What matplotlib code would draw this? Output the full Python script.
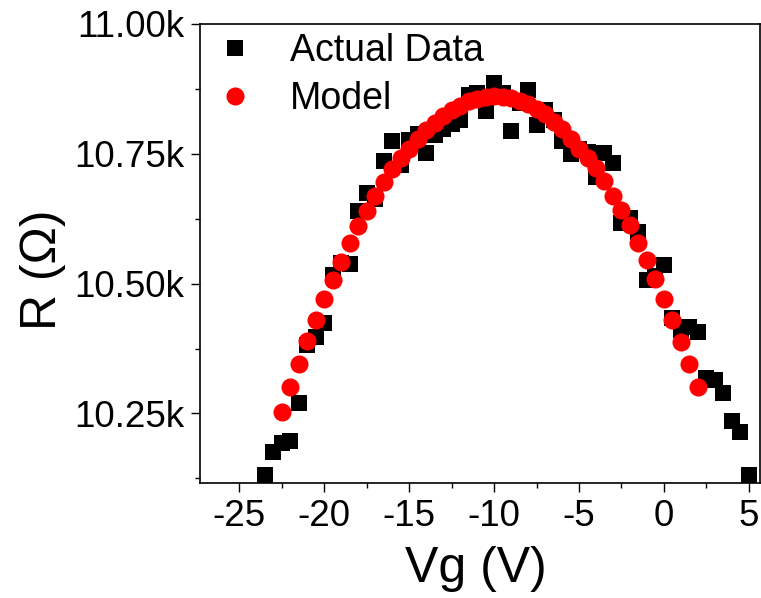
import matplotlib
matplotlib.use("Agg")
import matplotlib.pyplot as plt
from matplotlib.ticker import MultipleLocator, FuncFormatter

plt.rcParams["font.family"] = ["Liberation Sans", "DejaVu Sans"]

# measured gate sweep (V) and resistance (kOhm)
vg_data = [-23.5, -23.0, -22.5, -22.0, -21.5, -21.0, -20.5, -20.0, -19.5, -19.0,
           -18.5, -18.0, -17.5, -17.0, -16.5, -16.0, -15.5, -15.0, -14.5, -14.0,
           -13.5, -13.0, -12.5, -12.0, -11.5, -11.0, -10.5, -10.0, -9.5, -9.0,
           -8.5, -8.0, -7.5, -7.0, -6.5, -6.0, -5.5, -5.0, -4.5, -4.0,
           -3.5, -3.0, -2.5, -2.0, -1.5, -1.0, -0.5, 0.0, 0.5, 1.0,
           1.5, 2.0, 2.5, 3.0, 3.5, 4.0, 4.5, 5.0]
r_data = [10.131, 10.176, 10.194, 10.197, 10.270, 10.382, 10.398, 10.425, 10.517, 10.540,
          10.538, 10.640, 10.674, 10.662, 10.736, 10.774, 10.729, 10.776, 10.789, 10.752,
          10.787, 10.797, 10.808, 10.815, 10.864, 10.868, 10.833, 10.886, 10.868, 10.793,
          10.848, 10.873, 10.806, 10.835, 10.815, 10.775, 10.750, 10.760, 10.754, 10.706,
          10.751, 10.732, 10.616, 10.626, 10.599, 10.507, 10.515, 10.535, 10.433, 10.410,
          10.417, 10.407, 10.318, 10.314, 10.290, 10.235, 10.215, 10.131]

# model curve (kOhm)
vg_model = [-22.5, -22.0, -21.5, -21.0, -20.5, -20.0, -19.5, -19.0, -18.5, -18.0,
            -17.5, -17.0, -16.5, -16.0, -15.5, -15.0, -14.5, -14.0, -13.5, -13.0,
            -12.5, -12.0, -11.5, -11.0, -10.5, -10.0, -9.5, -9.0, -8.5, -8.0,
            -7.5, -7.0, -6.5, -6.0, -5.5, -5.0, -4.5, -4.0, -3.5, -3.0,
            -2.5, -2.0, -1.5, -1.0, -0.5, 0.0, 0.5, 1.0, 1.5, 2.0]
r_model = [10.252, 10.300, 10.345, 10.390, 10.430, 10.470, 10.507, 10.542, 10.578, 10.610,
           10.639, 10.668, 10.695, 10.720, 10.741, 10.760, 10.778, 10.795, 10.810, 10.823,
           10.834, 10.843, 10.851, 10.856, 10.860, 10.861, 10.860, 10.857, 10.852, 10.845,
           10.837, 10.826, 10.812, 10.797, 10.779, 10.760, 10.741, 10.722, 10.697, 10.669,
           10.641, 10.612, 10.579, 10.545, 10.509, 10.471, 10.430, 10.388, 10.345, 10.300]

fig = plt.figure(figsize=(7.61, 5.98), dpi=100)
ax = fig.add_axes([0.2628, 0.1923, 0.7359, 0.7676])

ax.plot(vg_data, r_data, linestyle="none", marker="s", ms=11, color="black",
        markeredgewidth=0, label="Actual Data")
ax.plot(vg_model, r_model, linestyle="none", marker="o", ms=13, color="#ff0000",
        markeredgewidth=0, label="Model")

ax.set_xlim(-27.3, 5.65)
ax.set_ylim(10.116, 11.0)

ax.xaxis.set_major_locator(MultipleLocator(5))
ax.xaxis.set_minor_locator(MultipleLocator(2.5))
ax.yaxis.set_major_locator(MultipleLocator(0.25))
ax.yaxis.set_minor_locator(MultipleLocator(0.125))
ax.yaxis.set_major_formatter(FuncFormatter(lambda v, p: f"{v:.2f}k"))
ax.xaxis.set_major_formatter(FuncFormatter(lambda v, p: f"{v:g}"))

ax.tick_params(which="major", direction="out", length=6.5, width=1.0,
               labelsize=26.5, pad=5)
ax.tick_params(which="minor", direction="out", length=3.5, width=1.0)
ax.tick_params(top=False, right=False, which="both")
for s in ax.spines.values():
    s.set_linewidth(1.2)

ax.set_xlabel("Vg (V)", fontsize=36)
ax.set_ylabel("R (\u03a9)", fontsize=36)
ax.xaxis.set_label_coords(0.493, -0.138)
ax.yaxis.set_label_coords(-0.24, 0.465)

ax.legend(loc="upper left", bbox_to_anchor=(0.029, 0.981), frameon=False,
          fontsize=27, handlelength=1.0, handletextpad=0.97, borderpad=0,
          borderaxespad=0, labelspacing=0.34, numpoints=1)

fig.savefig("out.png", dpi=100)
